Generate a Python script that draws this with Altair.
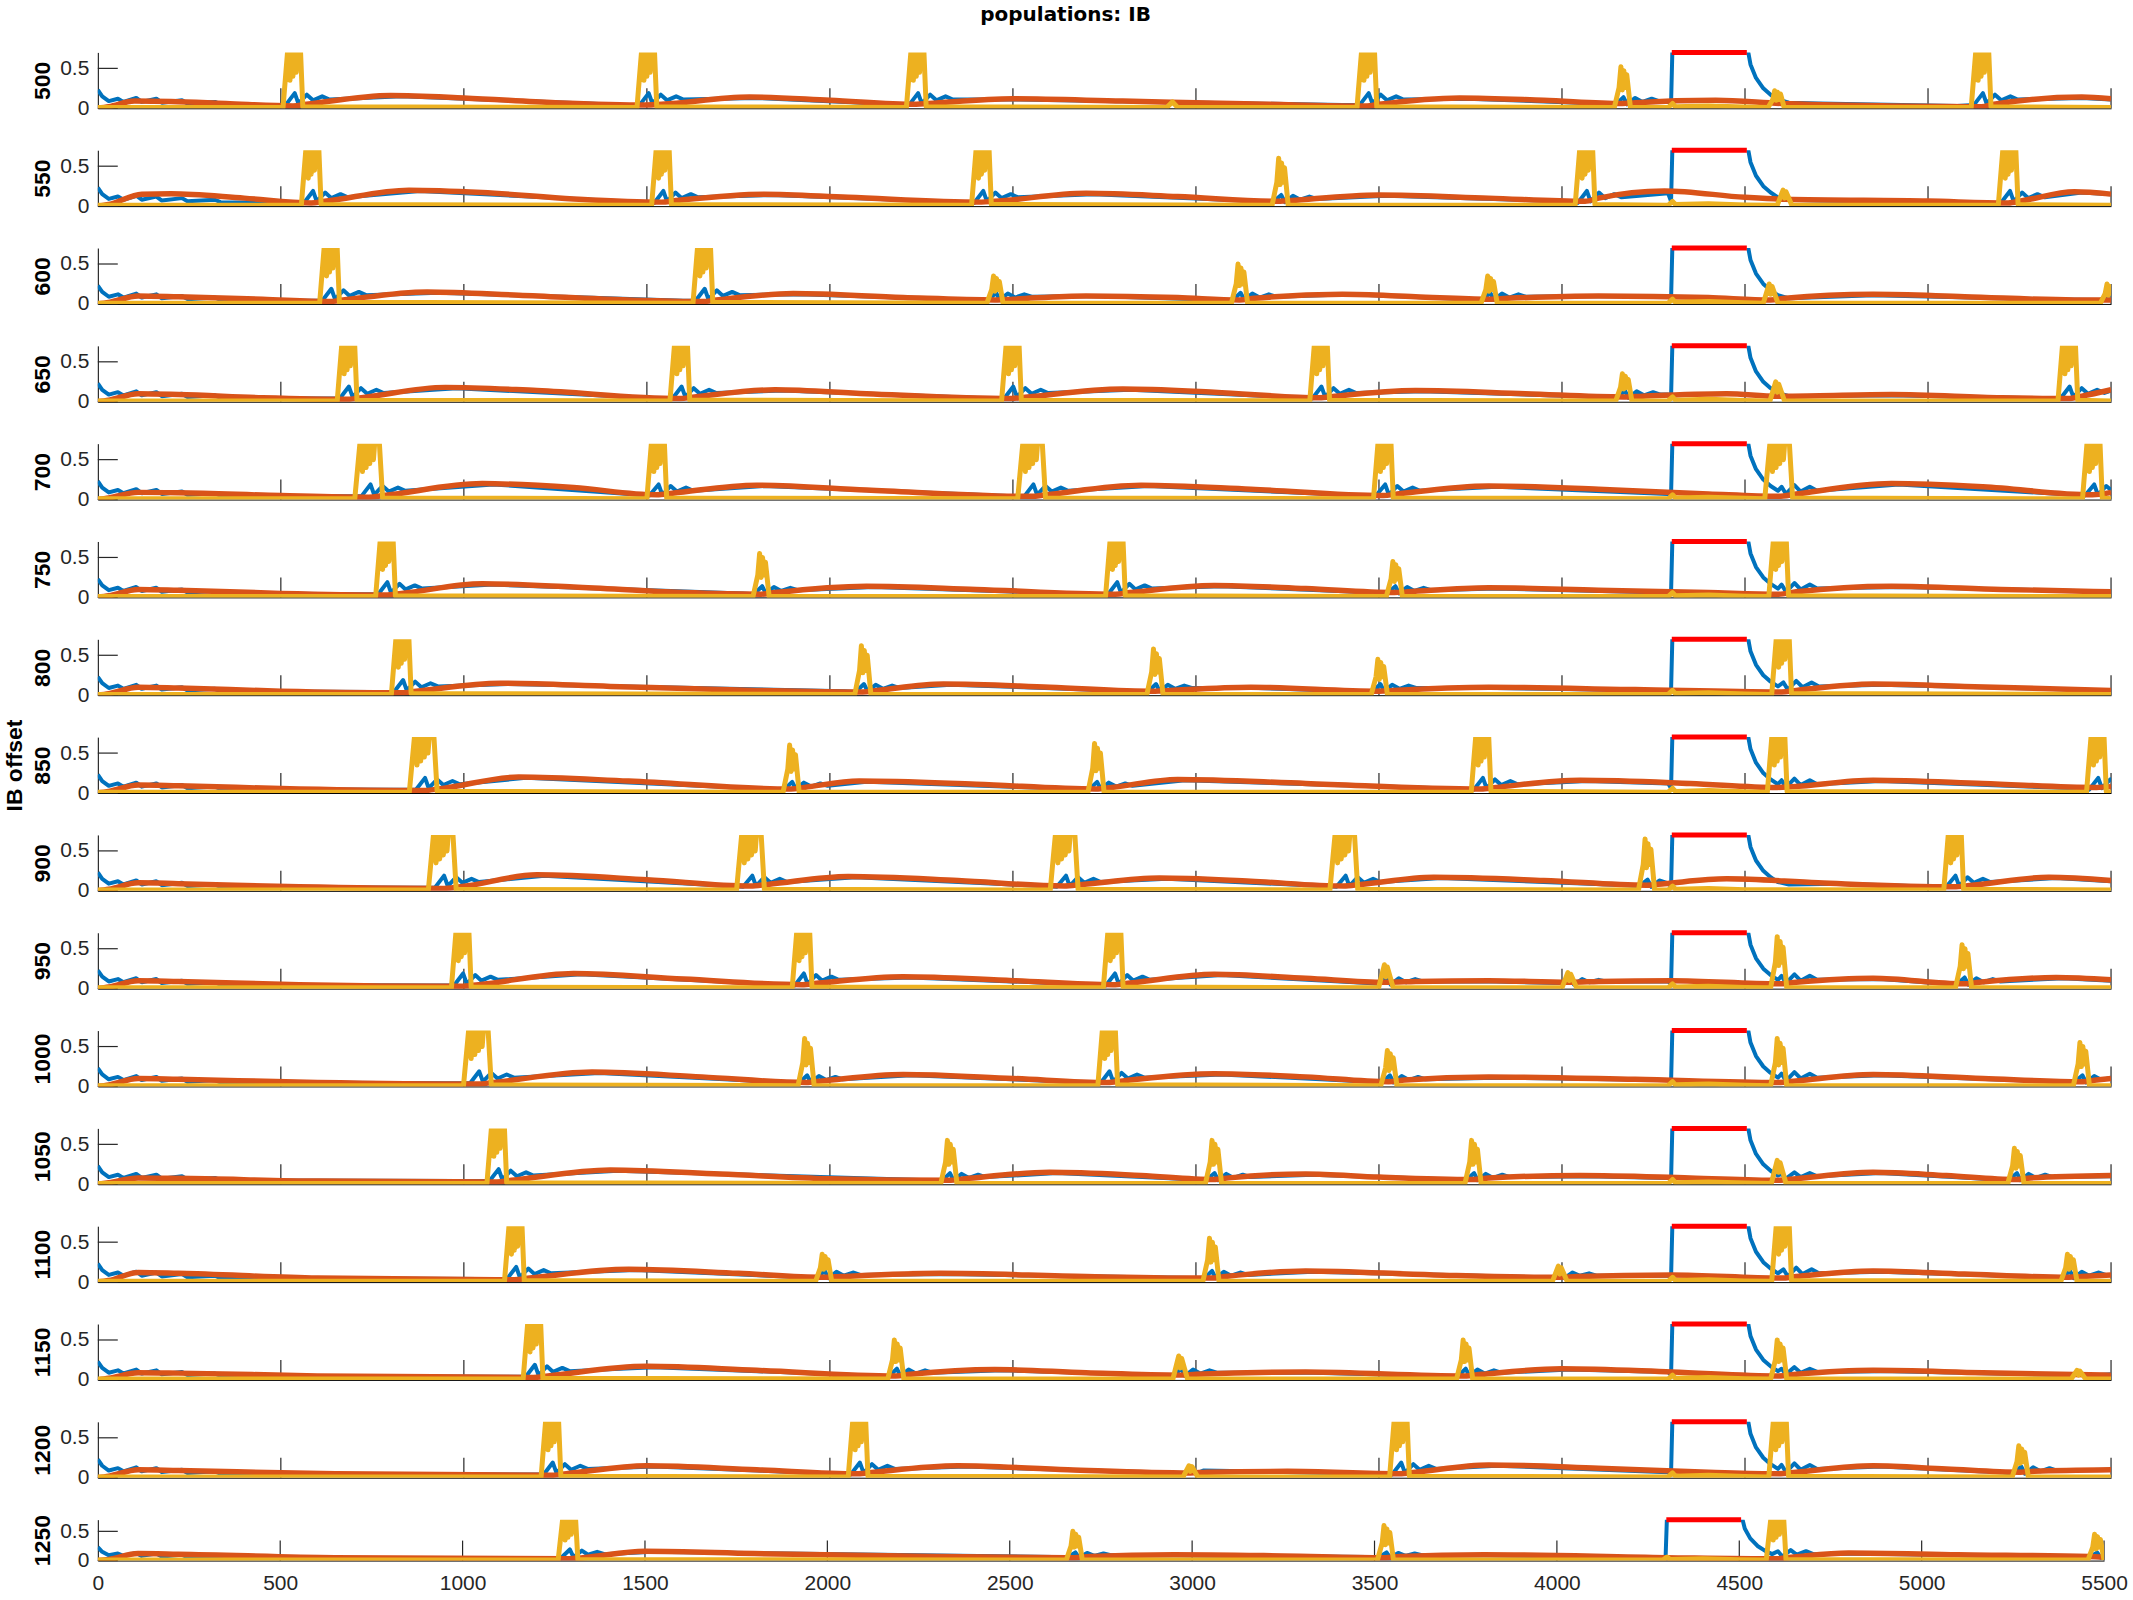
import altair as alt
import pandas as pd

OFFSETS = [500, 550, 600, 650, 700, 750, 800, 850, 900, 950, 1000, 1050, 1100, 1150, 1200, 1250]
X_TICKS = [0, 500, 1000, 1500, 2000, 2500, 3000, 3500, 4000, 4500, 5000, 5500]
Y_TICKS = [0, 0.5]
STIM = [4300, 4505, 0.7]
T_MAX = 5500
Y_MAX = 0.7

BLUE_START = [[0, .23], [12, .15], [30, .09], [55, .12], [70, .08], [105, .13], [120, .08], [160, .12],
              [175, .07], [230, .1], [245, .06], [320, .08], [335, .05]]
BLUE_STIM = [[4298, .06], [4302, .8], [4505, .8], [4515, .55], [4530, .38], [4550, .25], [4570, .17], [4590, .11]]
YELLOW_STIM = [[4290, .01], [4302, .06], [4310, .02], [4400, .03], [4500, .015]]

# ---------------- offset 500
BLUE_500 = [[460, .04], [513, .04], [538, .19], [548, .06], [571, .17], [588, .1], [613, .15], [633, .11], [830, .15], [1440, .04],
            [1480, .04], [1505, .19], [1515, .06], [1538, .17], [1555, .1], [1580, .15], [1600, .11], [1800, .13], [2180, .05],
            [2216, .04], [2241, .19], [2251, .06], [2274, .17], [2291, .1], [2316, .15], [2336, .11], [2520, .11], [3400, .04],
            [3447, .04], [3472, .19], [3482, .06], [3505, .17], [3522, .1], [3547, .15], [3567, .11], [3740, .12], [4100, .06],
            [4145, .04], [4168, .14], [4178, .05], [4200, .13], [4220, .08], [4245, .12], [4265, .09], [4290, .08],
            [4620, .07], [4700, .06], [5080, .03],
            [5125, .04], [5150, .19], [5160, .06], [5183, .17], [5200, .1], [5225, .15], [5245, .11], [5420, .13], [5500, .11]]
ORANGE_500 = [[0, 0], [30, .02], [100, .09], [200, .085], [350, .06], [533, .03], [570, .05], [800, .16], [1000, .13],
              [1250, .07], [1500, .04], [1540, .05], [1780, .14], [2000, .1], [2236, .05], [2270, .06], [2500, .12],
              [2800, .09], [3200, .05], [3467, .03], [3500, .05], [3720, .13], [3950, .1], [4165, .06], [4200, .07],
              [4420, .1], [4600, .06], [4900, .03], [5145, .02], [5180, .05], [5420, .14], [5500, .12]]
YELLOW_500 = [[0, .01],
              [506, .01], [520, .8], [525, .35], [529, .8], [533, .4], [538, .8], [542, .45], [547, .8], [553, .8], [560, .02],
              [1473, .01], [1487, .8], [1492, .35], [1496, .8], [1500, .4], [1505, .8], [1509, .45], [1514, .8], [1520, .8], [1527, .02],
              [2209, .01], [2223, .8], [2228, .35], [2232, .8], [2236, .4], [2241, .8], [2245, .45], [2250, .8], [2256, .8], [2263, .02],
              [2920, .01], [2936, .08], [2950, .01],
              [3440, .01], [3454, .8], [3459, .35], [3463, .8], [3467, .4], [3472, .8], [3476, .45], [3481, .8], [3487, .8], [3494, .02],
              [4143, .01], [4156, .26], [4161, .52], [4165, .23], [4169, .47], [4173, .26], [4177, .42], [4187, .01],
              [4563, .01], [4576, .11], [4581, .22], [4585, .1], [4589, .2], [4593, .11], [4597, .18], [4607, .01],
              [5118, .01], [5132, .8], [5137, .35], [5141, .8], [5145, .4], [5150, .8], [5154, .45], [5159, .8], [5165, .8], [5172, .02],
              [5500, .01]]

# ---------------- offset 550
BLUE_550 = [[500, .04], [563, .04], [588, .19], [598, .06], [621, .17], [638, .1], [663, .15], [683, .11], [880, .19], [1480, .05],
            [1520, .04], [1545, .19], [1555, .06], [1578, .17], [1595, .1], [1620, .15], [1640, .11], [1840, .14], [2360, .05],
            [2394, .04], [2419, .19], [2429, .06], [2452, .17], [2469, .1], [2494, .15], [2514, .11], [2720, .15], [3180, .06],
            [3210, .05], [3233, .14], [3243, .05], [3265, .13], [3285, .08], [3310, .12], [3330, .09], [3520, .13], [4010, .06],
            [4043, .04], [4068, .19], [4078, .06], [4101, .17], [4118, .1], [4143, .15], [4163, .11], [4290, .16],
            [4620, .08], [4700, .07], [5160, .04],
            [5199, .04], [5224, .19], [5234, .06], [5257, .17], [5274, .1], [5299, .15], [5319, .11], [5420, .17], [5500, .15]]
ORANGE_550 = [[0, 0], [30, .02], [120, .15], [200, .155], [400, .1], [583, .04], [620, .06], [850, .2], [1050, .17],
              [1300, .09], [1540, .05], [1580, .07], [1820, .15], [2050, .11], [2414, .05], [2450, .06], [2700, .16],
              [2950, .12], [3230, .06], [3260, .07], [3500, .14], [3800, .1], [4063, .06], [4100, .1], [4280, .19],
              [4500, .11], [4610, .085], [5000, .063], [5219, .04], [5260, .07], [5400, .18], [5500, .15]]
YELLOW_550 = [[0, .01],
              [556, .01], [570, .8], [575, .35], [579, .8], [583, .4], [588, .8], [592, .45], [597, .8], [603, .8], [610, .02],
              [1513, .01], [1527, .8], [1532, .35], [1536, .8], [1540, .4], [1545, .8], [1549, .45], [1554, .8], [1560, .8], [1567, .02],
              [2387, .01], [2401, .8], [2406, .35], [2410, .8], [2414, .4], [2419, .8], [2423, .45], [2428, .8], [2434, .8], [2441, .02],
              [3208, .01], [3221, .3], [3226, .6], [3230, .27], [3234, .54], [3238, .3], [3242, .48], [3252, .01],
              [4036, .01], [4050, .8], [4055, .35], [4059, .8], [4063, .4], [4068, .8], [4072, .45], [4077, .8], [4083, .8], [4090, .02],
              [4588, .01], [4604, .2], [4608, .1], [4612, .18], [4628, .01],
              [5192, .01], [5206, .8], [5211, .35], [5215, .8], [5219, .4], [5224, .8], [5228, .45], [5233, .8], [5239, .8], [5246, .02],
              [5500, .01]]

# ---------------- offset 600
BLUE_600 = [[560, .04], [613, .04], [638, .19], [648, .06], [671, .17], [688, .1], [713, .15], [733, .11], [930, .14], [1600, .04],
            [1633, .04], [1658, .19], [1668, .06], [1691, .17], [1708, .1], [1733, .15], [1753, .11], [1920, .12], [2400, .05],
            [2431, .04], [2454, .14], [2464, .05], [2486, .13], [2506, .08], [2531, .12], [2551, .09], [2720, .1], [3070, .05],
            [3099, .04], [3122, .14], [3132, .05], [3154, .13], [3174, .08], [3199, .12], [3219, .09], [3420, .12], [3750, .06],
            [3781, .04], [3804, .14], [3814, .05], [3836, .13], [3856, .08], [3881, .12], [3901, .09], [4110, .1], [4290, .09],
            [4620, .07], [4850, .11], [5300, .06], [5470, .05], [5500, .12]]
ORANGE_600 = [[0, 0], [30, .02], [110, .1], [220, .09], [450, .06], [633, .03], [670, .05], [900, .15], [1150, .11],
              [1450, .05], [1653, .03], [1690, .05], [1900, .13], [2200, .08], [2451, .05], [2500, .06], [2700, .1],
              [2950, .08], [3119, .05], [3160, .07], [3400, .12], [3600, .09], [3801, .06], [3850, .07], [4100, .1],
              [4400, .08], [4570, .05], [4610, .07], [4850, .12], [5100, .09], [5400, .05], [5500, .05]]
YELLOW_600 = [[0, .01],
              [606, .01], [620, .8], [625, .35], [629, .8], [633, .4], [638, .8], [642, .45], [647, .8], [653, .8], [660, .02],
              [1626, .01], [1640, .8], [1645, .35], [1649, .8], [1653, .4], [1658, .8], [1662, .45], [1667, .8], [1673, .8], [1680, .02],
              [2429, .01], [2442, .18], [2447, .35], [2451, .16], [2455, .32], [2459, .18], [2463, .28], [2473, .01],
              [3097, .01], [3110, .25], [3115, .5], [3119, .23], [3123, .45], [3127, .25], [3131, .4], [3141, .01],
              [3779, .01], [3792, .18], [3797, .35], [3801, .16], [3805, .32], [3809, .18], [3813, .28], [3823, .01],
              [4550, .01], [4566, .25], [4570, .12], [4574, .22], [4590, .01],
              [5471, .01], [5484, .13], [5489, .25], [5493, .11], [5497, .22], [5500, .15]]

# ---------------- offset 650
BLUE_650 = [[600, .04], [661, .04], [686, .19], [696, .06], [719, .17], [736, .1], [761, .15], [781, .11], [980, .17], [1540, .04],
            [1570, .04], [1595, .19], [1605, .06], [1628, .17], [1645, .1], [1670, .15], [1690, .11], [1870, .14], [2440, .04],
            [2476, .04], [2501, .19], [2511, .06], [2534, .17], [2551, .1], [2576, .15], [2596, .11], [2820, .15], [3290, .05],
            [3318, .04], [3343, .19], [3353, .06], [3376, .17], [3393, .1], [3418, .15], [3438, .11], [3620, .13], [4120, .06],
            [4149, .04], [4172, .14], [4182, .05], [4204, .13], [4224, .08], [4249, .12], [4269, .09], [4290, .09],
            [4620, .07], [4900, .08], [5330, .04],
            [5362, .04], [5387, .19], [5397, .06], [5420, .17], [5437, .1], [5462, .15], [5482, .11], [5500, .14]]
ORANGE_650 = [[0, 0], [30, .02], [110, .1], [220, .09], [450, .05], [681, .03], [720, .05], [950, .18], [1200, .14],
              [1590, .04], [1630, .06], [1850, .15], [2100, .1], [2496, .04], [2540, .06], [2800, .16], [3050, .12],
              [3338, .05], [3380, .07], [3600, .14], [3900, .1], [4169, .06], [4220, .07], [4450, .1], [4588, .07],
              [4630, .07], [4900, .09], [5200, .05], [5382, .04], [5420, .07], [5500, .15]]
YELLOW_650 = [[0, .01],
              [654, .01], [668, .8], [673, .35], [677, .8], [681, .4], [686, .8], [690, .45], [695, .8], [701, .8], [708, .02],
              [1563, .01], [1577, .8], [1582, .35], [1586, .8], [1590, .4], [1595, .8], [1599, .45], [1604, .8], [1610, .8], [1617, .02],
              [2469, .01], [2483, .8], [2488, .35], [2492, .8], [2496, .4], [2501, .8], [2505, .45], [2510, .8], [2516, .8], [2523, .02],
              [3311, .01], [3325, .8], [3330, .35], [3334, .8], [3338, .4], [3343, .8], [3347, .45], [3352, .8], [3358, .8], [3365, .02],
              [4147, .01], [4160, .18], [4165, .35], [4169, .16], [4173, .32], [4177, .18], [4181, .28], [4191, .01],
              [4568, .01], [4584, .25], [4588, .12], [4592, .22], [4608, .01],
              [5355, .01], [5369, .8], [5374, .35], [5378, .8], [5382, .4], [5387, .8], [5391, .45], [5396, .8], [5402, .8], [5409, .02],
              [5500, .01]]

# ---------------- offset 700
BLUE_700 = [[660, .04], [720, .04], [745, .19], [755, .06], [778, .17], [795, .1], [820, .15], [840, .11], [1080, .19], [1480, .06],
            [1507, .05], [1532, .19], [1542, .06], [1565, .17], [1582, .1], [1607, .15], [1627, .11], [1820, .17], [2500, .04],
            [2531, .04], [2556, .19], [2566, .06], [2589, .17], [2606, .1], [2631, .15], [2651, .11], [2870, .17], [3460, .05],
            [3492, .05], [3517, .19], [3527, .06], [3550, .17], [3567, .1], [3592, .15], [3612, .11], [3820, .16], [4290, .07],
            [4600, .16], [4612, .07], [4635, .18], [4652, .1], [4677, .16], [4697, .11], [4920, .19], [5400, .06],
            [5429, .05], [5454, .19], [5464, .06], [5487, .17], [5500, .12]]
ORANGE_700 = [[0, 0], [30, .02], [110, .09], [220, .085], [500, .05], [740, .03], [780, .05], [1050, .2], [1300, .15],
              [1527, .06], [1570, .08], [1800, .18], [2100, .12], [2551, .04], [2590, .06], [2850, .18], [3150, .13],
              [3512, .05], [3550, .07], [3800, .17], [4100, .13], [4400, .07], [4592, .04], [4640, .07], [4900, .2],
              [5150, .16], [5449, .06], [5490, .08], [5500, .09]]
YELLOW_700 = [[0, .01],
              [702, .01], [718, .8], [723, .35], [728, .8], [733, .4], [738, .8], [743, .45], [748, .8], [753, .5], [758, .8], [768, .8], [778, .02],
              [1500, .01], [1514, .8], [1519, .35], [1523, .8], [1527, .4], [1532, .8], [1536, .45], [1541, .8], [1547, .8], [1554, .02],
              [2513, .01], [2529, .8], [2534, .35], [2539, .8], [2544, .4], [2549, .8], [2554, .45], [2559, .8], [2564, .5], [2569, .8], [2579, .8], [2589, .02],
              [3485, .01], [3499, .8], [3504, .35], [3508, .8], [3512, .4], [3517, .8], [3521, .45], [3526, .8], [3532, .8], [3539, .02],
              [4554, .01], [4570, .8], [4575, .35], [4580, .8], [4585, .4], [4590, .8], [4595, .45], [4600, .8], [4605, .5], [4610, .8], [4620, .8], [4630, .02],
              [5422, .01], [5436, .8], [5441, .35], [5445, .8], [5449, .4], [5454, .8], [5458, .45], [5463, .8], [5469, .8], [5476, .02],
              [5500, .01]]

# ---------------- offset 750
BLUE_750 = [[700, .04], [766, .04], [791, .19], [801, .06], [824, .17], [841, .1], [866, .15], [886, .11], [1080, .16], [1760, .05],
            [1792, .04], [1815, .14], [1825, .05], [1847, .13], [1867, .08], [1892, .12], [1912, .09], [2120, .13], [2730, .04],
            [2760, .04], [2785, .19], [2795, .06], [2818, .17], [2835, .1], [2860, .15], [2880, .11], [3070, .14], [3490, .06],
            [3522, .05], [3545, .14], [3555, .05], [3577, .13], [3597, .08], [3622, .12], [3642, .09], [3820, .11], [4290, .06],
            [4600, .16], [4612, .07], [4635, .18], [4652, .1], [4677, .16], [4697, .11], [4920, .13], [5500, .07]]
ORANGE_750 = [[0, 0], [30, .02], [110, .1], [220, .09], [500, .05], [786, .03], [830, .05], [1050, .17], [1300, .13],
              [1600, .06], [1812, .04], [1850, .06], [2100, .14], [2400, .1], [2780, .04], [2820, .06], [3050, .15],
              [3300, .11], [3542, .06], [3580, .07], [3800, .12], [4100, .09], [4400, .06], [4592, .04], [4640, .07],
              [4900, .14], [5200, .1], [5500, .07]]
YELLOW_750 = [[0, .01],
              [759, .01], [773, .8], [778, .35], [782, .8], [786, .4], [791, .8], [795, .45], [800, .8], [806, .8], [813, .02],
              [1790, .01], [1803, .28], [1808, .55], [1812, .25], [1816, .5], [1820, .28], [1824, .44], [1834, .01],
              [2753, .01], [2767, .8], [2772, .35], [2776, .8], [2780, .4], [2785, .8], [2789, .45], [2794, .8], [2800, .8], [2807, .02],
              [3520, .01], [3533, .23], [3538, .45], [3542, .2], [3546, .41], [3550, .23], [3554, .36], [3564, .01],
              [4565, .01], [4579, .8], [4584, .35], [4588, .8], [4592, .4], [4597, .8], [4601, .45], [4606, .8], [4612, .8], [4619, .02],
              [5500, .01]]

# ---------------- offset 800
BLUE_800 = [[750, .04], [809, .04], [834, .19], [844, .06], [867, .17], [884, .1], [909, .15], [929, .11], [1120, .14], [2040, .05],
            [2070, .04], [2093, .14], [2103, .05], [2125, .13], [2145, .08], [2170, .12], [2190, .09], [2330, .13], [2840, .05],
            [2868, .04], [2891, .14], [2901, .05], [2923, .13], [2943, .08], [2968, .12], [2988, .09], [3170, .09], [3450, .05],
            [3481, .04], [3504, .14], [3514, .05], [3536, .13], [3556, .08], [3581, .12], [3601, .09], [3820, .09], [4290, .06],
            [4605, .16], [4617, .07], [4640, .18], [4657, .1], [4682, .16], [4702, .11], [4870, .13], [5500, .06]]
ORANGE_800 = [[0, 0], [30, .02], [110, .1], [220, .09], [500, .05], [829, .03], [870, .05], [1100, .15], [1400, .11],
              [1800, .06], [2090, .04], [2130, .06], [2310, .14], [2600, .1], [2888, .05], [2930, .06], [3150, .1],
              [3501, .05], [3540, .06], [3800, .1], [4200, .07], [4600, .04], [4640, .06], [4850, .14], [5100, .11],
              [5500, .06]]
YELLOW_800 = [[0, .01],
              [802, .01], [816, .8], [821, .35], [825, .8], [829, .4], [834, .8], [838, .45], [843, .8], [849, .8], [856, .02],
              [2068, .01], [2081, .31], [2086, .62], [2090, .28], [2094, .56], [2098, .31], [2102, .5], [2112, .01],
              [2866, .01], [2879, .29], [2884, .58], [2888, .26], [2892, .52], [2896, .29], [2900, .46], [2910, .01],
              [3479, .01], [3492, .23], [3497, .45], [3501, .2], [3505, .41], [3509, .23], [3513, .36], [3523, .01],
              [4573, .01], [4587, .8], [4592, .35], [4596, .8], [4600, .4], [4605, .8], [4609, .45], [4614, .8], [4620, .8], [4627, .02],
              [5500, .01]]

# ---------------- offset 850
BLUE_850 = [[800, .04], [869, .04], [894, .19], [904, .06], [927, .17], [944, .1], [969, .15], [989, .11], [1170, .19], [1840, .05],
            [1874, .04], [1897, .14], [1907, .05], [1929, .13], [1949, .08], [1974, .12], [1994, .09], [2100, .14], [2680, .05],
            [2707, .04], [2730, .14], [2740, .05], [2762, .13], [2782, .08], [2807, .12], [2827, .09], [2970, .16], [3730, .05],
            [3759, .04], [3784, .19], [3794, .06], [3817, .17], [3834, .1], [3859, .15], [3879, .11], [4070, .15], [4290, .12],
            [4600, .16], [4612, .07], [4635, .18], [4652, .1], [4677, .16], [4697, .11], [4870, .15], [5400, .06],
            [5440, .04], [5465, .19], [5475, .06], [5498, .17], [5500, .16]]
ORANGE_850 = [[0, 0], [30, .02], [110, .1], [220, .09], [550, .05], [889, .03], [930, .05], [1150, .2], [1450, .15],
              [1894, .05], [1930, .07], [2080, .15], [2400, .11], [2727, .05], [2770, .07], [2950, .17], [3300, .12],
              [3779, .05], [3820, .07], [4050, .16], [4350, .12], [4588, .07], [4630, .08], [4850, .16], [5150, .12],
              [5460, .07], [5500, .08]]
YELLOW_850 = [[0, .01],
              [851, .01], [867, .8], [872, .35], [877, .8], [882, .4], [887, .8], [892, .45], [897, .8], [902, .5], [907, .8], [917, .8], [927, .02],
              [1872, .01], [1885, .3], [1890, .6], [1894, .27], [1898, .54], [1902, .3], [1906, .48], [1916, .01],
              [2705, .01], [2718, .31], [2723, .62], [2727, .28], [2731, .56], [2735, .31], [2739, .5], [2749, .01],
              [3752, .01], [3766, .8], [3771, .35], [3775, .8], [3779, .4], [3784, .8], [3788, .45], [3793, .8], [3799, .8], [3806, .02],
              [4561, .01], [4575, .8], [4580, .35], [4584, .8], [4588, .4], [4593, .8], [4597, .45], [4602, .8], [4608, .8], [4615, .02],
              [5433, .01], [5447, .8], [5452, .35], [5456, .8], [5460, .4], [5465, .8], [5469, .45], [5474, .8], [5480, .8], [5487, .02],
              [5500, .01]]

# ---------------- offset 900
BLUE_900 = [[860, .04], [921, .04], [946, .19], [956, .06], [979, .17], [996, .1], [1021, .15], [1041, .11], [1220, .19], [1730, .06],
            [1763, .05], [1788, .19], [1798, .06], [1821, .17], [1838, .1], [1863, .15], [1883, .11], [2070, .17], [2590, .06],
            [2620, .05], [2645, .19], [2655, .06], [2678, .17], [2695, .1], [2720, .15], [2740, .11], [2920, .15], [3350, .06],
            [3384, .05], [3409, .19], [3419, .06], [3442, .17], [3459, .1], [3484, .15], [3504, .11], [3670, .16], [4180, .07],
            [4211, .06], [4234, .14], [4244, .05], [4266, .13], [4286, .1],
            [4620, .08], [4750, .09], [5020, .05],
            [5050, .05], [5075, .19], [5085, .06], [5108, .17], [5125, .1], [5150, .15], [5170, .11], [5350, .16], [5500, .12]]
ORANGE_900 = [[0, 0], [30, .02], [110, .1], [220, .09], [550, .05], [941, .03], [990, .05], [1200, .2], [1500, .14],
              [1783, .06], [1830, .08], [2050, .18], [2350, .13], [2640, .06], [2690, .08], [2900, .16], [3150, .12],
              [3404, .06], [3450, .08], [3650, .17], [3950, .13], [4231, .07], [4280, .09], [4450, .15], [4700, .1],
              [5070, .05], [5120, .07], [5330, .17], [5500, .13]]
YELLOW_900 = [[0, .01],
              [903, .01], [919, .8], [924, .35], [929, .8], [934, .4], [939, .8], [944, .45], [949, .8], [954, .5], [959, .8], [969, .8], [979, .02],
              [1745, .01], [1761, .8], [1766, .35], [1771, .8], [1776, .4], [1781, .8], [1786, .45], [1791, .8], [1796, .5], [1801, .8], [1811, .8], [1821, .02],
              [2602, .01], [2618, .8], [2623, .35], [2628, .8], [2633, .4], [2638, .8], [2643, .45], [2648, .8], [2653, .5], [2658, .8], [2668, .8], [2678, .02],
              [3366, .01], [3382, .8], [3387, .35], [3392, .8], [3397, .4], [3402, .8], [3407, .45], [3412, .8], [3417, .5], [3422, .8], [3432, .8], [3442, .02],
              [4209, .01], [4222, .33], [4227, .65], [4231, .29], [4235, .59], [4239, .33], [4243, .52], [4253, .01],
              [5043, .01], [5057, .8], [5062, .35], [5066, .8], [5070, .4], [5075, .8], [5079, .45], [5084, .8], [5090, .8], [5097, .02],
              [5500, .01]]

# ---------------- offset 950
BLUE_950 = [[900, .04], [973, .04], [998, .19], [1008, .06], [1031, .17], [1048, .1], [1073, .15], [1093, .11], [1320, .18], [1870, .05],
            [1904, .04], [1929, .19], [1939, .06], [1962, .17], [1979, .1], [2004, .15], [2024, .11], [2220, .14], [2720, .05],
            [2754, .04], [2779, .19], [2789, .06], [2812, .17], [2829, .1], [2854, .15], [2874, .11], [3070, .17], [3470, .07],
            [3499, .06], [3522, .14], [3532, .05], [3554, .13], [3574, .08], [3599, .12], [3619, .09], [3820, .09],
            [4000, .07], [4023, .13], [4033, .05], [4055, .12], [4075, .08], [4100, .11], [4120, .09], [4290, .09],
            [4600, .16], [4612, .07], [4635, .18], [4652, .1], [4677, .16], [4697, .11], [4870, .12], [5050, .06],
            [5077, .05], [5100, .14], [5110, .05], [5132, .13], [5152, .08], [5177, .12], [5197, .09], [5370, .13], [5500, .1]]
ORANGE_950 = [[0, 0], [30, .02], [110, .1], [220, .09], [550, .05], [993, .03], [1040, .05], [1300, .19], [1600, .12],
              [1924, .05], [1970, .07], [2200, .15], [2500, .1], [2774, .05], [2820, .07], [3050, .18], [3300, .13],
              [3519, .08], [3600, .09], [3800, .1], [4020, .08], [4100, .09], [4300, .1], [4592, .06], [4640, .08],
              [4850, .13], [5097, .06], [5140, .08], [5350, .14], [5500, .11]]
YELLOW_950 = [[0, .01],
              [966, .01], [980, .8], [985, .35], [989, .8], [993, .4], [998, .8], [1002, .45], [1007, .8], [1013, .8], [1020, .02],
              [1897, .01], [1911, .8], [1916, .35], [1920, .8], [1924, .4], [1929, .8], [1933, .45], [1938, .8], [1944, .8], [1951, .02],
              [2747, .01], [2761, .8], [2766, .35], [2770, .8], [2774, .4], [2779, .8], [2783, .45], [2788, .8], [2794, .8], [2801, .02],
              [3499, .01], [3515, .3], [3519, .15], [3523, .27], [3539, .01],
              [4000, .01], [4016, .2], [4020, .1], [4024, .18], [4040, .01],
              [4570, .01], [4583, .33], [4588, .65], [4592, .29], [4596, .59], [4600, .33], [4604, .52], [4614, .01],
              [5075, .01], [5088, .28], [5093, .55], [5097, .25], [5101, .5], [5105, .28], [5109, .44], [5119, .01],
              [5500, .01]]

# ---------------- offset 1000
BLUE_1000 = [[950, .04], [1017, .04], [1042, .19], [1052, .06], [1075, .17], [1092, .1], [1117, .15], [1137, .11], [1370, .17], [1880, .05],
             [1915, .04], [1938, .14], [1948, .05], [1970, .13], [1990, .08], [2015, .12], [2035, .09], [2220, .14], [2710, .05],
             [2739, .04], [2764, .19], [2774, .06], [2797, .17], [2814, .1], [2839, .15], [2859, .11], [3070, .15], [3480, .06],
             [3507, .05], [3530, .14], [3540, .05], [3562, .13], [3582, .08], [3607, .12], [3627, .09], [3820, .11], [4290, .08],
             [4600, .16], [4612, .07], [4635, .18], [4652, .1], [4677, .16], [4697, .11], [4870, .14], [5370, .06],
             [5399, .05], [5422, .14], [5432, .05], [5454, .13], [5474, .08], [5500, .11]]
ORANGE_1000 = [[0, 0], [30, .02], [110, .1], [220, .09], [600, .05], [1037, .03], [1080, .05], [1350, .18], [1650, .12],
               [1935, .05], [1980, .07], [2200, .15], [2500, .1], [2759, .05], [2800, .07], [3050, .16], [3300, .12],
               [3527, .06], [3570, .08], [3800, .12], [4200, .09], [4592, .05], [4640, .07], [4850, .15], [5150, .1],
               [5419, .06], [5460, .08], [5500, .1]]
YELLOW_1000 = [[0, .01],
               [999, .01], [1015, .8], [1020, .35], [1025, .8], [1030, .4], [1035, .8], [1040, .45], [1045, .8], [1050, .5], [1055, .8], [1065, .8], [1075, .02],
               [1913, .01], [1926, .3], [1931, .6], [1935, .27], [1939, .54], [1943, .3], [1947, .48], [1957, .01],
               [2732, .01], [2746, .8], [2751, .35], [2755, .8], [2759, .4], [2764, .8], [2768, .45], [2773, .8], [2779, .8], [2786, .02],
               [3505, .01], [3518, .23], [3523, .45], [3527, .2], [3531, .41], [3535, .23], [3539, .36], [3549, .01],
               [4570, .01], [4583, .3], [4588, .6], [4592, .27], [4596, .54], [4600, .3], [4604, .48], [4614, .01],
               [5397, .01], [5410, .28], [5415, .55], [5419, .25], [5423, .5], [5427, .28], [5431, .44], [5441, .01],
               [5500, .01]]

# ---------------- offset 1050
BLUE_1050 = [[1000, .04], [1070, .04], [1095, .19], [1105, .06], [1128, .17], [1145, .1], [1170, .15], [1190, .11], [1420, .17], [2270, .05],
             [2305, .04], [2328, .14], [2338, .05], [2360, .13], [2380, .08], [2405, .12], [2425, .09], [2620, .14], [3000, .06],
             [3028, .05], [3051, .14], [3061, .05], [3083, .13], [3103, .08], [3128, .12], [3148, .09], [3320, .12], [3700, .06],
             [3737, .05], [3760, .14], [3770, .05], [3792, .13], [3812, .08], [3837, .12], [3857, .09], [4070, .1], [4290, .08],
             [4600, .13], [4612, .07], [4635, .15], [4652, .09], [4677, .14], [4697, .1], [4870, .14], [5190, .06],
             [5220, .05], [5243, .14], [5253, .05], [5275, .13], [5295, .08], [5320, .12], [5340, .09], [5500, .1]]
ORANGE_1050 = [[0, 0], [30, .02], [110, .08], [220, .075], [600, .04], [1090, .03], [1130, .05], [1400, .18], [1700, .13],
               [2000, .07], [2325, .05], [2370, .07], [2600, .15], [2850, .11], [3048, .06], [3090, .08], [3300, .13],
               [3500, .09], [3757, .06], [3800, .08], [4050, .11], [4350, .08], [4592, .05], [4640, .07], [4850, .15],
               [5050, .11], [5240, .06], [5280, .08], [5500, .11]]
YELLOW_1050 = [[0, .01],
               [1063, .01], [1077, .8], [1082, .35], [1086, .8], [1090, .4], [1095, .8], [1099, .45], [1104, .8], [1110, .8], [1117, .02],
               [2303, .01], [2316, .28], [2321, .55], [2325, .25], [2329, .5], [2333, .28], [2337, .44], [2347, .01],
               [3026, .01], [3039, .28], [3044, .55], [3048, .25], [3052, .5], [3056, .28], [3060, .44], [3070, .01],
               [3735, .01], [3748, .28], [3753, .55], [3757, .25], [3761, .5], [3765, .28], [3769, .44], [3779, .01],
               [4572, .01], [4588, .3], [4592, .15], [4596, .27], [4612, .01],
               [5218, .01], [5231, .23], [5236, .45], [5240, .2], [5244, .41], [5248, .23], [5252, .36], [5262, .01],
               [5500, .01]]

# ---------------- offset 1100
BLUE_1100 = [[1050, .04], [1118, .04], [1143, .19], [1153, .06], [1176, .17], [1193, .1], [1218, .15], [1238, .11], [1470, .15], [1930, .06],
             [1963, .05], [1986, .14], [1996, .05], [2018, .13], [2038, .08], [2063, .12], [2083, .09], [2320, .1], [2990, .05],
             [3021, .04], [3044, .14], [3054, .05], [3076, .13], [3096, .08], [3121, .12], [3141, .09], [3320, .13], [3940, .06],
             [3974, .05], [3997, .13], [4007, .05], [4029, .12], [4049, .08], [4074, .11], [4094, .08], [4290, .08],
             [4605, .16], [4617, .07], [4640, .18], [4657, .1], [4682, .16], [4702, .11], [4870, .13], [5330, .06],
             [5365, .05], [5388, .14], [5398, .05], [5420, .13], [5440, .08], [5465, .12], [5485, .09], [5500, .09]]
ORANGE_1100 = [[0, 0], [30, .02], [110, .12], [220, .11], [600, .05], [1138, .03], [1180, .05], [1450, .16], [1750, .11],
               [1983, .06], [2030, .07], [2300, .11], [2700, .07], [3041, .05], [3080, .07], [3300, .14], [3650, .09],
               [3994, .06], [4040, .07], [4300, .09], [4600, .05], [4640, .07], [4850, .14], [5100, .1], [5385, .06],
               [5420, .07], [5500, .09]]
YELLOW_1100 = [[0, .01],
               [1111, .01], [1125, .8], [1130, .35], [1134, .8], [1138, .4], [1143, .8], [1147, .45], [1152, .8], [1158, .8], [1165, .02],
               [1961, .01], [1974, .18], [1979, .35], [1983, .16], [1987, .32], [1991, .18], [1995, .28], [2005, .01],
               [3019, .01], [3032, .28], [3037, .55], [3041, .25], [3045, .5], [3049, .28], [3053, .44], [3063, .01],
               [3974, .01], [3990, .2], [3994, .1], [3998, .18], [4014, .01],
               [4573, .01], [4587, .8], [4592, .35], [4596, .8], [4600, .4], [4605, .8], [4609, .45], [4614, .8], [4620, .8], [4627, .02],
               [5363, .01], [5376, .18], [5381, .35], [5385, .16], [5389, .32], [5393, .18], [5397, .28], [5407, .01],
               [5500, .01]]

# ---------------- offset 1150
BLUE_1150 = [[1100, .04], [1169, .04], [1194, .19], [1204, .06], [1227, .17], [1244, .1], [1269, .15], [1289, .11], [1520, .16], [2130, .05],
             [2160, .04], [2183, .14], [2193, .05], [2215, .13], [2235, .08], [2260, .12], [2280, .09], [2470, .12], [2900, .06],
             [2937, .05], [2960, .14], [2970, .05], [2992, .13], [3012, .08], [3037, .12], [3057, .09], [3320, .09], [3680, .05],
             [3714, .04], [3737, .14], [3747, .05], [3769, .13], [3789, .08], [3814, .12], [3834, .09], [4020, .13], [4290, .1],
             [4600, .14], [4612, .07], [4635, .16], [4652, .09], [4677, .14], [4697, .1], [4870, .11], [5390, .06],
             [5415, .1], [5430, .05], [5500, .07]]
ORANGE_1150 = [[0, 0], [30, .02], [110, .09], [220, .085], [600, .05], [1189, .03], [1230, .05], [1500, .17], [1800, .12],
               [2180, .05], [2220, .07], [2450, .13], [2700, .09], [2957, .06], [3000, .07], [3300, .1], [3734, .05],
               [3780, .07], [4000, .14], [4300, .1], [4592, .05], [4640, .07], [4850, .12], [5150, .09], [5500, .06]]
YELLOW_1150 = [[0, .01],
               [1162, .01], [1176, .8], [1181, .35], [1185, .8], [1189, .4], [1194, .8], [1198, .45], [1203, .8], [1209, .8], [1216, .02],
               [2158, .01], [2171, .25], [2176, .5], [2180, .23], [2184, .45], [2188, .25], [2192, .4], [2202, .01],
               [2937, .01], [2953, .3], [2957, .15], [2961, .27], [2977, .01],
               [3712, .01], [3725, .25], [3730, .5], [3734, .23], [3738, .45], [3742, .25], [3746, .4], [3756, .01],
               [4570, .01], [4583, .25], [4588, .5], [4592, .23], [4596, .45], [4600, .25], [4604, .4], [4614, .01],
               [5391, .01], [5407, .12], [5411, .06], [5415, .11], [5431, .01],
               [5500, .01]]

# ---------------- offset 1200
BLUE_1200 = [[1150, .04], [1218, .04], [1243, .19], [1253, .06], [1276, .17], [1293, .1], [1318, .15], [1338, .11], [1520, .14], [2020, .05],
             [2057, .04], [2082, .19], [2092, .06], [2115, .17], [2132, .1], [2157, .15], [2177, .11], [2370, .14], [2930, .06],
             [2965, .05], [2988, .1], [2998, .05], [3020, .09], [3270, .07], [3500, .05],
             [3536, .04], [3561, .19], [3571, .06], [3594, .17], [3611, .1], [3636, .15], [3656, .11], [3820, .15], [4290, .07],
             [4600, .16], [4612, .07], [4635, .18], [4652, .1], [4677, .16], [4697, .11], [4870, .14], [5200, .07],
             [5232, .05], [5255, .14], [5265, .05], [5287, .13], [5307, .08], [5332, .12], [5352, .09], [5500, .1]]
ORANGE_1200 = [[0, 0], [30, .02], [110, .1], [220, .09], [650, .05], [1238, .03], [1280, .05], [1500, .15], [1800, .1],
               [2077, .05], [2120, .07], [2350, .15], [2650, .1], [2985, .06], [3030, .07], [3250, .08], [3556, .05],
               [3600, .07], [3800, .16], [4100, .12], [4400, .07], [4592, .05], [4640, .07], [4850, .15], [5050, .11],
               [5252, .07], [5290, .08], [5500, .1]]
YELLOW_1200 = [[0, .01],
               [1211, .01], [1225, .8], [1230, .35], [1234, .8], [1238, .4], [1243, .8], [1247, .45], [1252, .8], [1258, .8], [1265, .02],
               [2050, .01], [2064, .8], [2069, .35], [2073, .8], [2077, .4], [2082, .8], [2086, .45], [2091, .8], [2097, .8], [2104, .02],
               [2965, .01], [2981, .15], [2985, .08], [2989, .14], [3005, .01],
               [3529, .01], [3543, .8], [3548, .35], [3552, .8], [3556, .4], [3561, .8], [3565, .45], [3570, .8], [3576, .8], [3583, .02],
               [4565, .01], [4579, .8], [4584, .35], [4588, .8], [4592, .4], [4597, .8], [4601, .45], [4606, .8], [4612, .8], [4619, .02],
               [5230, .01], [5243, .2], [5248, .4], [5252, .18], [5256, .36], [5260, .2], [5264, .32], [5274, .01],
               [5500, .01]]

# ---------------- offset 1250
BLUE_1250 = [[1200, .04], [1269, .04], [1294, .19], [1304, .06], [1327, .17], [1344, .1], [1369, .15], [1389, .11], [1520, .15], [2620, .06],
             [2657, .05], [2680, .14], [2690, .05], [2712, .13], [2732, .08], [2757, .12], [2777, .09], [2970, .09], [3480, .06],
             [3510, .05], [3533, .14], [3543, .05], [3565, .13], [3585, .08], [3610, .12], [3630, .09], [3820, .09], [4290, .05],
             [4606, .16], [4618, .07], [4641, .18], [4658, .1], [4683, .16], [4703, .11], [4820, .12], [5430, .06],
             [5458, .05], [5481, .14], [5491, .05], [5500, .08]]
ORANGE_1250 = [[0, 0], [30, .02], [110, .12], [220, .11], [650, .05], [1289, .03], [1330, .05], [1500, .16], [1800, .12],
               [2300, .07], [2677, .05], [2720, .07], [2950, .1], [3250, .08], [3530, .05], [3570, .07], [3800, .1],
               [4300, .05], [4601, .03], [4650, .06], [4800, .13], [5100, .1], [5460, .07], [5500, .06]]
YELLOW_1250 = [[0, .01],
               [1262, .01], [1276, .8], [1281, .35], [1285, .8], [1289, .4], [1294, .8], [1298, .45], [1303, .8], [1309, .8], [1316, .02],
               [2655, .01], [2668, .25], [2673, .5], [2677, .23], [2681, .45], [2685, .25], [2689, .4], [2699, .01],
               [3508, .01], [3521, .3], [3526, .6], [3530, .27], [3534, .54], [3538, .3], [3542, .48], [3552, .01],
               [4574, .01], [4588, .8], [4593, .35], [4597, .8], [4601, .4], [4606, .8], [4610, .45], [4615, .8], [4621, .8], [4628, .02],
               [5456, .01], [5469, .23], [5474, .45], [5478, .2], [5482, .41], [5486, .23], [5490, .36], [5500, .01]]

SERIES = {
    500: (BLUE_500, ORANGE_500, YELLOW_500), 550: (BLUE_550, ORANGE_550, YELLOW_550),
    600: (BLUE_600, ORANGE_600, YELLOW_600), 650: (BLUE_650, ORANGE_650, YELLOW_650),
    700: (BLUE_700, ORANGE_700, YELLOW_700), 750: (BLUE_750, ORANGE_750, YELLOW_750),
    800: (BLUE_800, ORANGE_800, YELLOW_800), 850: (BLUE_850, ORANGE_850, YELLOW_850),
    900: (BLUE_900, ORANGE_900, YELLOW_900), 950: (BLUE_950, ORANGE_950, YELLOW_950),
    1000: (BLUE_1000, ORANGE_1000, YELLOW_1000), 1050: (BLUE_1050, ORANGE_1050, YELLOW_1050),
    1100: (BLUE_1100, ORANGE_1100, YELLOW_1100), 1150: (BLUE_1150, ORANGE_1150, YELLOW_1150),
    1200: (BLUE_1200, ORANGE_1200, YELLOW_1200), 1250: (BLUE_1250, ORANGE_1250, YELLOW_1250),
}

C_BLUE, C_ORANGE, C_YELLOW, C_RED = "#0072BD", "#D95319", "#EDB120", "#FF0000"
FONT = "Liberation Sans"
TITLE_FONT = "DejaVu Sans"


def to_df(points):
    pts = sorted(points, key=lambda p: p[0])
    return pd.DataFrame({"t": [p[0] for p in pts], "v": [p[1] for p in pts], "k": list(range(len(pts)))})


def make_panel(i, off):
    last = i == len(OFFSETS) - 1
    w = 2010 if last else 2017
    h = 41 if last else 56
    xs = alt.Scale(domain=[0, T_MAX], nice=False, zero=False)
    ys = alt.Scale(domain=[0, Y_MAX], nice=False, zero=True)
    title = ["IB offset", str(off)] if off == 850 else str(off)
    xaxis = alt.Axis(values=X_TICKS, ticks=False, grid=False, domain=True, domainColor="#000000", domainWidth=1,
                     labels=last, labelFont=FONT, labelFontSize=21, labelColor="#262626", labelPadding=12,
                     labelFlush=False, labelOverlap=False, format="d", title=None)
    yaxis = alt.Axis(values=Y_TICKS, ticks=False, grid=False, domain=True, domainColor="#000000", domainWidth=1,
                     labelFont=FONT, labelFontSize=21, labelColor="#262626", labelPadding=9, format="~g",
                     title=title, titleFont=FONT, titleFontSize=23, titleFontWeight="bold", titleColor="#000000",
                     titlePadding=5, titleLineHeight=28)
    blue, orange, yellow = SERIES[off]

    tick_x = alt.Chart(pd.DataFrame({"t": X_TICKS[1:]})).mark_rule(color="#262626", strokeWidth=1.2).encode(
        x=alt.X("t:Q", scale=xs, axis=xaxis), y=alt.value(h), y2=alt.value(h - 20))
    tick_y = alt.Chart(pd.DataFrame({"v": Y_TICKS})).mark_rule(color="#262626", strokeWidth=1.2).encode(
        y=alt.Y("v:Q", scale=ys, axis=yaxis), x=alt.value(0), x2=alt.value(20))

    def line(pts, color, sw, interp):
        return alt.Chart(to_df(pts)).mark_line(color=color, strokeWidth=sw, clip=True, interpolate=interp,
                                               strokeJoin="round").encode(
            x=alt.X("t:Q", scale=xs, axis=xaxis), y=alt.Y("v:Q", scale=ys, axis=yaxis), order="k:Q")

    l_blue = line(BLUE_START + BLUE_STIM + blue, C_BLUE, 4, "linear")
    l_orange = line(orange, C_ORANGE, 5.5, "monotone")
    l_yellow = line(YELLOW_STIM + yellow, C_YELLOW, 5, "linear")
    red = alt.Chart(pd.DataFrame({"a": [STIM[0]], "b": [STIM[1]], "c": [STIM[2]]})).mark_rule(
        color=C_RED, strokeWidth=5).encode(
        x=alt.X("a:Q", scale=xs, axis=xaxis), x2="b:Q", y=alt.Y("c:Q", scale=ys, axis=yaxis))
    return alt.layer(tick_x, tick_y, l_blue, l_orange, l_yellow, red).properties(width=w, height=h)


panels = [make_panel(i, off) for i, off in enumerate(OFFSETS)]
chart = alt.vconcat(*panels, spacing=42, bounds="flush").properties(
    title=alt.TitleParams("populations: IB", font=TITLE_FONT, fontSize=20, fontWeight="bold", color="#000000",
                          anchor="middle", offset=25),
    padding={"left": 3, "top": 3, "right": 5, "bottom": 5},
).configure_view(stroke=None)

chart.save("out.html", embed_options={"renderer": "svg", "actions": False})
